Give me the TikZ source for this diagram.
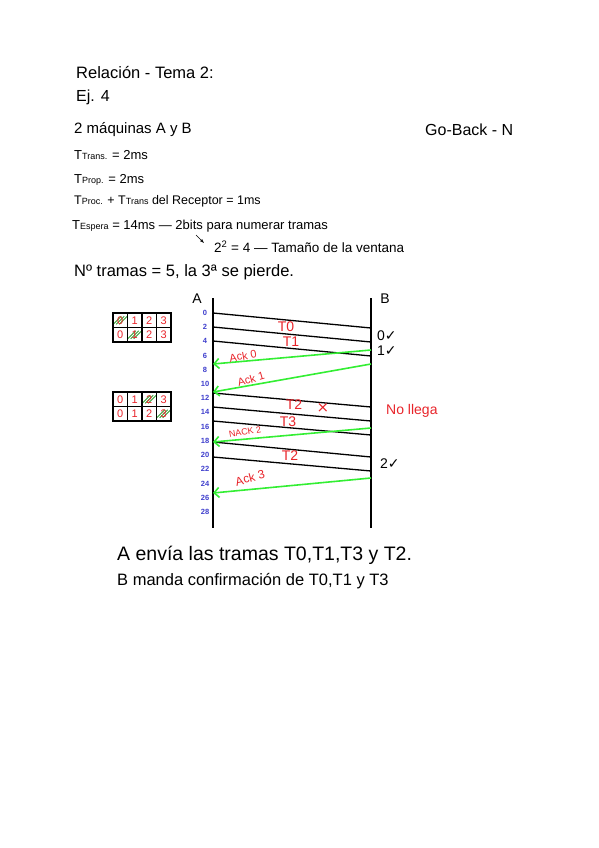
\documentclass[tikz,border=0pt]{standalone}
\usepackage{fontspec}
\setmainfont{Liberation Sans}
\newfontfamily\symfont{DejaVu Sans}
\usetikzlibrary{arrows.meta}
\definecolor{inkred}{HTML}{E8242A}
\definecolor{inkgreen}{HTML}{33EE33}
\definecolor{inkblue}{HTML}{3D3DCC}
\definecolor{hatchgreen}{HTML}{2E9E2E}
\newcommand{\fs}[1]{\fontsize{#1}{#1}\selectfont}
\newcommand{\sub}[1]{{\fs{9}#1}}

\tikzset{
  note/.style={anchor=west, inner sep=0pt},
  frame/.style={line width=1.3pt},
  lifeline/.style={line width=1.8pt},
  ack/.style={inkgreen, line width=1.6pt, -{Straight Barb[length=5pt,width=10pt]}},
  lbl/.style={text=inkred, inner sep=0pt},
  tick/.style={text=inkblue, font=\bfseries\fs{7.5}, inner sep=0pt},
  cell/.style={draw, line width=1.3pt, minimum size=14.5pt, inner sep=0pt, text=inkred, font=\fs{11}},
  done/.style={path picture={
      \foreach \s in {-7,-4,-1}
        \draw[hatchgreen, line width=0.9pt] ([xshift=\s pt, yshift=-4pt]path picture bounding box.center) -- ++(8pt,8pt);
    }},
}

\begin{document}
\begin{tikzpicture}[x=1pt, y=-1pt]
\useasboundingbox (0,0) rectangle (599,848);

% Header notes
\node[note, font=\fs{16.5}] (title) at (76,73) {Relación - Tema 2:};
\node[note, font=\fs{16}] (ej) at (76,97) {Ej. 4};
\node[note, font=\fs{15}] (hosts) at (74,130) {2 máquinas A y B};
\node[note, font=\fs{16}] (proto) at (425,130) {Go-Back - N};
\node[note, font=\fs{13}] (ttrans) at (74,155) {T\sub{Trans.} = 2ms};
\node[note, font=\fs{13}] (tprop) at (74,180) {T\sub{Prop.} = 2ms};
\node[note, font=\fs{12.5}] (tproc) at (74,201) {T\sub{Proc.} + T\sub{Trans} del Receptor = 1ms};
\node[note, font=\fs{13}] (tesp) at (72,226) {T\sub{Espera} = 14ms — 2bits para numerar tramas};
\node[note, font=\fs{13.5}] (window) at (214,247) {2\textsuperscript{2} = 4 — Tamaño de la ventana};
\coordinate (hint) at (196,235);
\coordinate (hintend) at (204,243);
\draw[-{Latex[length=4pt]}] (hint) -- (hintend);
\node[note, font=\fs{16.5}] (count) at (74,272) {Nº tramas = 5, la 3ª se pierde.};

% Window tables
\foreach \d/\h [count=\i from 0] in {0/done,1/,2/,3/}
  \node[cell,\h] (wa\i) at (120.25+14.5*\i,320.25) {\d};
\foreach \d/\h [count=\i from 0] in {0/,1/done,2/,3/}
  \node[cell,\h] (wb\i) at (120.25+14.5*\i,334.75) {\d};
\foreach \d/\h [count=\i from 0] in {0/,1/,2/done,3/}
  \node[cell,\h] (wc\i) at (120.25+14.5*\i,399.25) {\d};
\foreach \d/\h [count=\i from 0] in {0/,1/,2/,3/done}
  \node[cell,\h] (wd\i) at (120.25+14.5*\i,413.75) {\d};

% Lifelines
\node[font=\fs{14}] (A) at (197,299) {A};
\node[font=\fs{14}] (B) at (385,299) {B};
\coordinate (Atop) at (213,298);
\coordinate (Abot) at (213,528);
\coordinate (Btop) at (371,298);
\coordinate (Bbot) at (371,528);
\draw[lifeline] (Atop) -- (Abot);
\draw[lifeline] (Btop) -- (Bbot);

% Time marks
\foreach \t [count=\k from 0] in {0,2,...,28}
  \node[tick] (tk\t) at (205,313+14.2*\k) {\t};

% Frames A -> B
\foreach \n/\ya/\yb in {1/313/328, 2/327/342, 3/341/356, 4/393/407, 5/407/421, 6/421/435, 7/442/457, 8/457/471} {
  \coordinate (fa\n) at (213,\ya);
  \coordinate (fb\n) at (371,\yb);
  \draw[frame] (fa\n) -- (fb\n);
}

% Acks B -> A
\foreach \n/\yb/\ya in {0/350/364, 1/364/392, 2/428/442, 3/478/493} {
  \coordinate (kb\n) at (371,\yb);
  \coordinate (ka\n) at (213,\ya);
  \draw[ack] (kb\n) -- (ka\n);
}

% Labels
\node[lbl, font=\fs{14}] (lt0) at (286,327) {T0};
\node[lbl, font=\fs{14}] (lt1) at (291,342) {T1};
\node[lbl, font=\fs{11}, rotate=10] (lk0) at (243,356) {Ack 0};
\node[lbl, font=\fs{11}, rotate=16] (lk1) at (251,379) {Ack 1};
\node[lbl, font=\fs{14}] (lt2) at (294,405) {T2};
\node[lbl, font=\symfont\fs{15}] (lost) at (323,408) {×};
\node[lbl, font=\fs{14}] (lt3) at (288,422) {T3};
\node[lbl, font=\fs{9}, rotate=10] (lk2) at (245,432) {NACK 2};
\node[lbl, font=\fs{14}] (lt2b) at (290,456) {T2};
\node[lbl, font=\fs{12}, rotate=15] (lk3) at (250,478) {Ack 3};
\node[lbl, note, font=\fs{14}] (miss) at (386,411) {No llega};

% Receipts at B
\node[note, font=\fs{14}] (ok0) at (377,336) {0{\symfont ✓}};
\node[note, font=\fs{14}] (ok1) at (377,351) {1{\symfont ✓}};
\node[note, font=\fs{14}] (ok2) at (380,464) {2{\symfont ✓}};

% Summary
\node[note, font=\fs{19.5}] (sumA) at (117,555) {A envía las tramas T0,T1,T3 y T2.};
\node[note, font=\fs{16.5}] (sumB) at (117,581) {B manda confirmación de T0,T1 y T3};
\end{tikzpicture}
\end{document}
